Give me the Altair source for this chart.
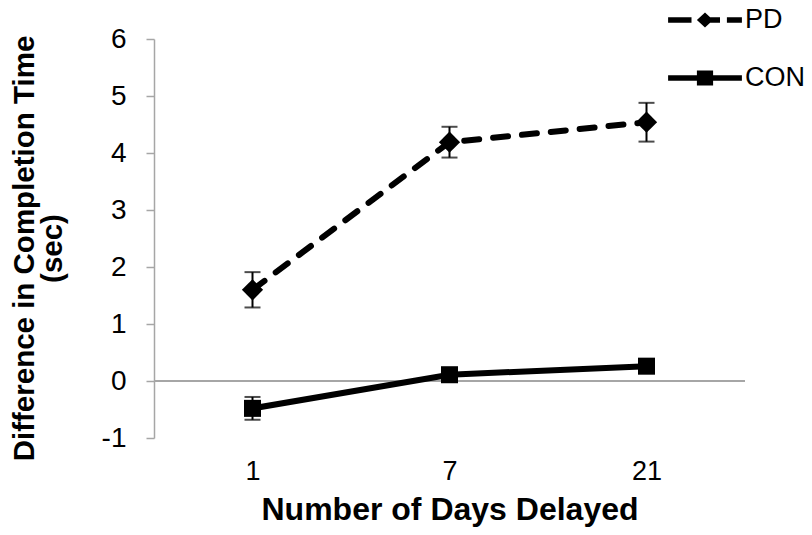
import altair as alt
import pandas as pd

days = ["1", "7", "21"]
pd_mean = [1.60, 4.19, 4.54]
pd_err = [0.31, 0.27, 0.34]
con_mean = [-0.48, 0.11, 0.26]
con_err = [0.20, 0.10, 0.10]
series_names = ["PD", "CON"]
y_ticks = [-1, 0, 1, 2, 3, 4, 5, 6]

rows = []
for d, m, e in zip(days, pd_mean, pd_err):
    rows.append({"day": d, "series": "PD", "value": m, "lo": m - e, "hi": m + e})
for d, m, e in zip(days, con_mean, con_err):
    rows.append({"day": d, "series": "CON", "value": m, "lo": m - e, "hi": m + e})
df = pd.DataFrame(rows)

FONT = "Liberation Sans"

x_enc = alt.X(
    "day:O",
    sort=days,
    scale=alt.Scale(type="point", padding=0.5),
    axis=alt.Axis(
        title="Number of Days Delayed",
        labelAngle=0,
        domain=False,
        ticks=False,
        labelPadding=20,
        labelFontSize=27,
        labelFont=FONT,
        labelColor="black",
        titleFont=FONT,
        titleFontSize=32,
        titleFontWeight="bold",
        titleColor="black",
        titlePadding=10,
    ),
)
y_scale = alt.Scale(domain=[-1, 6], nice=False, zero=False)
y_enc = alt.Y(
    "value:Q",
    scale=y_scale,
    axis=alt.Axis(
        title=["Difference in Completion Time", "(sec)"],
        values=y_ticks,
        labelExpr="datum.value < 0 ? '-' + abs(datum.value) : '' + datum.value",
        grid=False,
        domainColor="#a6a6a6",
        domainWidth=1.5,
        tickColor="#a6a6a6",
        tickWidth=1.5,
        tickSize=8,
        labelPadding=20,
        labelFontSize=28,
        labelFont=FONT,
        labelColor="black",
        titleFont=FONT,
        titleFontSize=29.5,
        titleFontWeight="bold",
        titleColor="black",
        titleLineHeight=28,
        titlePadding=34,
        titleY=209,
    ),
)

base = alt.Chart(df)

zero_rule = alt.Chart(pd.DataFrame({"z": [0]})).mark_rule(
    color="#a6a6a6", strokeWidth=2
).encode(y=alt.Y("z:Q", scale=y_scale))

line_pd = base.transform_filter(alt.datum.series == "PD").mark_line(
    color="black", strokeWidth=6, strokeCap="round", strokeDash=[15, 14]
).encode(x=x_enc, y=y_enc)
line_con = base.transform_filter(alt.datum.series == "CON").mark_line(
    color="black", strokeWidth=6, strokeCap="round"
).encode(x=alt.X("day:O", sort=days), y=alt.Y("value:Q", scale=y_scale))

err_rule = base.mark_rule(color="black", strokeWidth=2).encode(
    x=alt.X("day:O", sort=days), y=alt.Y("lo:Q", scale=y_scale), y2="hi:Q"
)
cap_lo = base.mark_tick(color="black", thickness=2, size=16).encode(
    x=alt.X("day:O", sort=days), y=alt.Y("lo:Q", scale=y_scale)
)
cap_hi = base.mark_tick(color="black", thickness=2, size=16).encode(
    x=alt.X("day:O", sort=days), y=alt.Y("hi:Q", scale=y_scale)
)

pts_pd = base.transform_filter(alt.datum.series == "PD").mark_point(
    shape="diamond", filled=True, color="black", size=450, opacity=1
).encode(x=alt.X("day:O", sort=days), y=alt.Y("value:Q", scale=y_scale))
pts_con = base.transform_filter(alt.datum.series == "CON").mark_point(
    shape="square", filled=True, color="black", size=290, opacity=1
).encode(x=alt.X("day:O", sort=days), y=alt.Y("value:Q", scale=y_scale))

# legend symbols: custom paths (units scaled by sqrt(size)/2 = 30px)
pd_path = (
    "M-1.23,-0.09L-0.45,-0.09L-0.45,0.09L-1.23,0.09Z "
    "M0,-0.25L0.27,0L0,0.25L-0.27,0Z "
    "M0,-0.09L0.5,-0.09L0.5,0.09L0,0.09Z "
    "M0.73,-0.09L1.23,-0.09L1.23,0.09L0.73,0.09Z"
)
con_path = (
    "M-1.23,-0.09L1.23,-0.09L1.23,0.09L-1.23,0.09Z "
    "M-0.27,-0.25L0.27,-0.25L0.27,0.25L-0.27,0.25Z"
)
legend_layer = base.mark_point(
    filled=True, color="black", opacity=0, size=1
).encode(
    x=alt.X("day:O", sort=days),
    y=alt.Y("value:Q", scale=y_scale),
    shape=alt.Shape(
        "series:N",
        scale=alt.Scale(domain=series_names, range=[pd_path, con_path]),
        legend=alt.Legend(
            title=None,
            orient="none",
            legendX=521,
            legendY=-49,
            symbolSize=3600,
            symbolStrokeWidth=0,
            symbolFillColor="black",
            symbolOpacity=1,
            labelFont=FONT,
            labelFontSize=27,
            labelColor="black",
            labelOffset=10,
            rowPadding=15,
            padding=0,
        ),
    ),
)

chart = alt.layer(
    zero_rule, line_pd, line_con, err_rule, cap_lo, cap_hi, pts_pd, pts_con, legend_layer
).properties(
    width=591,
    height=399,
    padding={"left": 146, "top": 31, "right": 59, "bottom": 89},
    autosize=alt.AutoSizeParams(type="none"),
).configure_view(stroke=None)

chart.save("out.html", embed_options={"renderer": "svg", "actions": False})
